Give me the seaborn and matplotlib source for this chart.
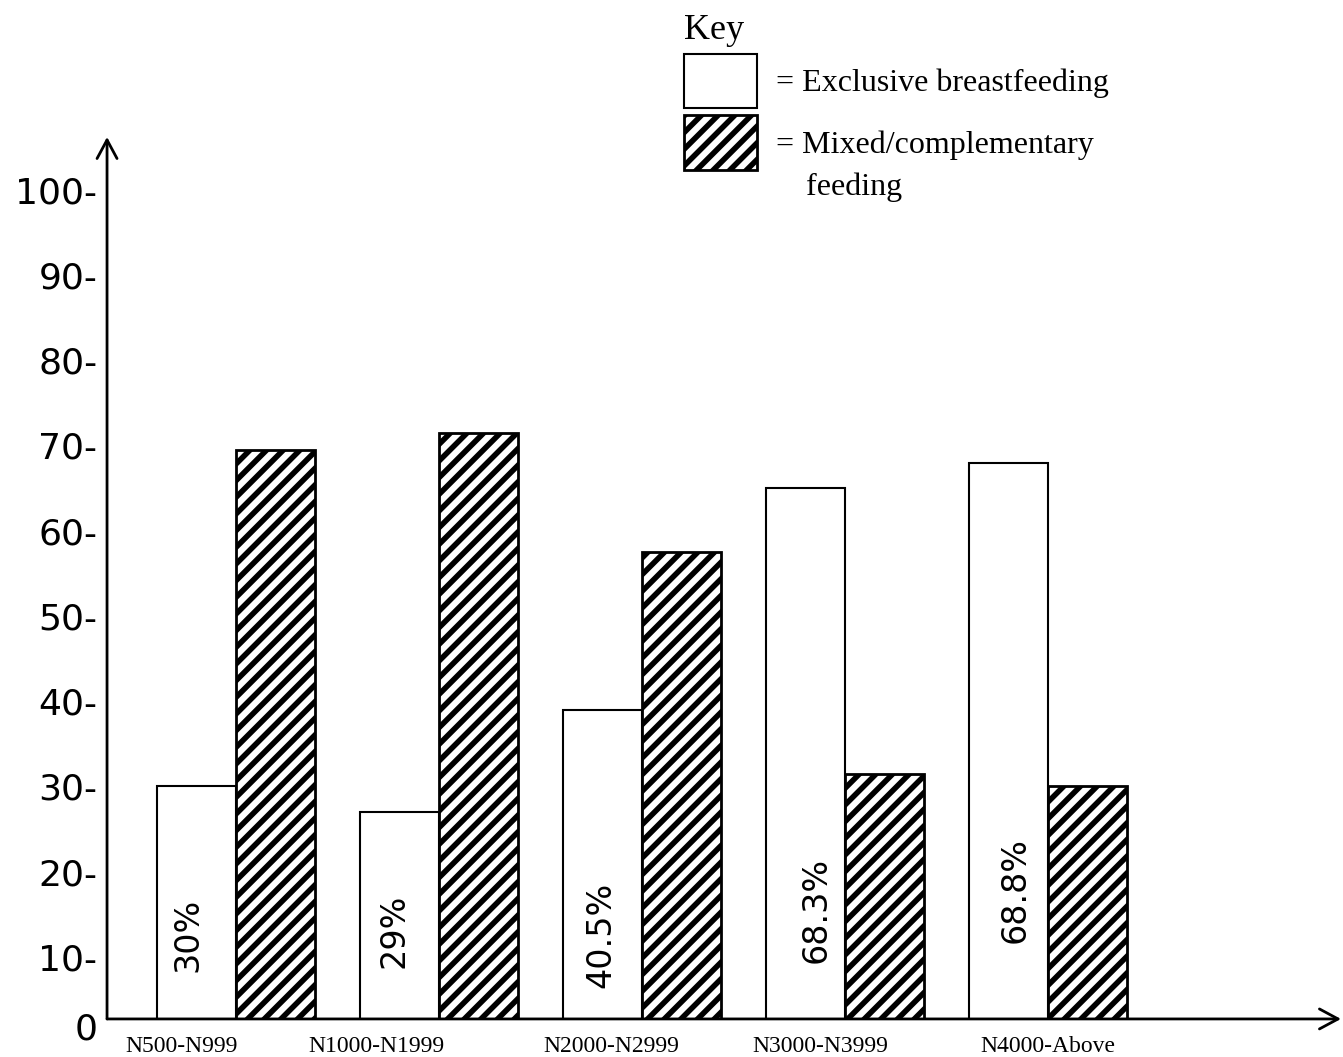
import seaborn as sns
import pandas as pd
import matplotlib.pyplot as plt

sns.set_theme(style="white")
plt.rcParams["font.family"] = ["DejaVu Sans"]
plt.rcParams["text.color"] = "black"
plt.rcParams["hatch.linewidth"] = 4.0

income = ["N500-N999", "N1000-N1999", "N2000-N2999", "N3000-N3999", "N4000-Above"]
exclusive = [30, 27, 39, 65, 68]
mixed = [69.5, 71.5, 57.5, 31.5, 30]
bar_text = ["30%", "29%", "40.5%", "68.3%", "68.8%"]
series = ["Exclusive breastfeeding", "Mixed/complementary feeding"]
legend_labels = ["= Exclusive breastfeeding", "= Mixed/complementary"]

df = pd.DataFrame({
    "income": income * 2,
    "feeding": [series[0]] * 5 + [series[1]] * 5,
    "value": exclusive + mixed,
})

fig = plt.figure(figsize=(13.43, 10.57), dpi=100)
ax = fig.add_axes([0.0797, 0.0360, 0.9188, 0.8344])

sns.barplot(data=df, x="income", y="value", hue="feeding", hue_order=series,
            palette=["white", "white"], width=0.774, gap=0, saturation=1,
            edgecolor="black", linewidth=1.5, errorbar=None, legend=False, ax=ax)

for p in ax.containers[1]:
    p.set_hatch("//")
    p.set_linewidth(2)

ax.set_xlim(-0.635, 5.443)
ax.set_ylim(2.7, 106.2)
for s in ax.spines.values():
    s.set_visible(False)

# axes drawn as arrows
arrow = dict(arrowstyle="->,head_length=0.67,head_width=0.36", lw=2, color="black",
             shrinkA=0, shrinkB=0, mutation_scale=20)
ax.annotate("", xy=(0, 1), xytext=(0, 0), xycoords="axes fraction", arrowprops=arrow)
ax.annotate("", xy=(1, 0), xytext=(0, 0), xycoords="axes fraction", arrowprops=arrow)

yt = list(range(10, 101, 10))
ax.set_yticks(yt)
ax.set_yticklabels([f"{t}-" for t in yt])
ax.tick_params(axis="y", length=0, pad=7, labelsize=26, labelcolor="black")
ax.text(-0.017, -0.0125, "0", transform=ax.transAxes, ha="center", va="center",
        fontsize=26, color="black")

label_dx = [-0.27, -0.31, -0.15, -0.12, 0.0]
ax.set_xticks([i + d for i, d in enumerate(label_dx)])
ax.set_xticklabels(income, family="Liberation Serif", fontsize=17)
ax.tick_params(axis="x", length=0, pad=12, labelcolor="black")
ax.set_xlabel("")
ax.set_ylabel("")

txt_dx = [-0.236, -0.222, -0.202, -0.143, -0.163]
txt_y = [12.6, 13.1, 12.6, 15.5, 17.8]
for i, t in enumerate(bar_text):
    ax.text(i + txt_dx[i], txt_y[i], t, rotation=90, ha="center", va="center",
            fontsize=24, color="black")

leg = ax.legend(handles=[ax.containers[0], ax.containers[1]], labels=legend_labels,
                title="Key", loc="upper left", bbox_to_anchor=(684 / 1343, 1 - 14 / 1057),
                bbox_transform=fig.transFigure, frameon=False,
                prop={"family": "Liberation Serif", "size": 23}, labelcolor="black",
                title_fontproperties={"family": "Liberation Serif", "size": 26},
                handlelength=2.28, handleheight=2.24, handletextpad=0.6,
                borderpad=0, borderaxespad=0, labelspacing=0.22, alignment="left")
leg.get_title().set_color("black")
fig.text(806 / 1343, 1 - 187 / 1057, "feeding", family="Liberation Serif", fontsize=23,
         ha="left", va="center", color="black")

fig.savefig("out.png", dpi=100)
